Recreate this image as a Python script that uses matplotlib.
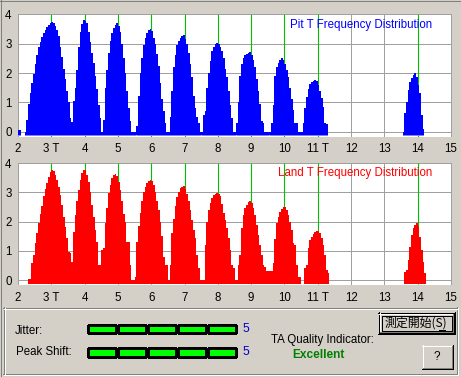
import numpy as np
import matplotlib
matplotlib.use("Agg")
import matplotlib.pyplot as plt

plt.rcParams['lines.scale_dashes'] = False
plt.rcParams['font.family'] = ['Liberation Sans', 'Noto Sans CJK JP', 'DejaVu Sans']

W, H = 461, 377
BG = '#D4D0C8'
BIN = 0.05  # histogram bin width in T

# ---------------- data ----------------
x_ticks = list(range(2, 16))
x_tick_labels = ['2', '3 T', '4', '5', '6', '7', '8', '9', '10', '11 T', '12', '13', '14', '15']
y_ticks = [0, 1, 2, 3, 4]
peak_marks = [3, 4, 5, 6, 7, 8, 9, 10, 11, 14]

pit_pre_start, pit_pre = 2.00, [0.04, 0.04]
pit_3t_start, pit_3t = 2.20, [0.0, 0.40, 0.95, 1.30, 1.65, 1.95, 2.30, 2.60, 2.88, 3.05, 3.22, 3.37, 3.48, 3.58,
                              3.65, 3.70, 3.73, 3.70, 3.60, 3.47, 3.25, 2.90, 2.55, 2.15, 1.80, 1.40, 1.00, 0.45, 0.33]
pit_4t_start, pit_4t = 3.65, [1.04, 1.50, 2.10, 2.90, 3.40, 3.68, 3.81, 3.79, 3.70, 3.40, 3.05, 2.70, 2.35, 1.90,
                              1.45, 0.90, 0.47, 0.0]
pit_5t_start, pit_5t = 4.55, [0.40, 1.50, 2.10, 2.70, 3.10, 3.38, 3.55, 3.65, 3.72, 3.62, 3.40, 3.00, 2.50, 2.00,
                              1.40, 0.80, 0.35, 0.0, 0.0, 0.0]
pit_6t_start, pit_6t = 5.55, [0.20, 1.20, 2.00, 2.50, 2.95, 3.20, 3.38, 3.47, 3.49, 3.42, 3.20, 2.98, 2.64, 2.25,
                              1.65, 1.10, 0.70, 0.30, 0.0, 0.0]
pit_7t_start, pit_7t = 6.55, [0.50, 1.40, 2.20, 2.60, 2.95, 3.10, 3.20, 3.27, 3.30, 3.15, 2.98, 2.70, 2.30, 1.85,
                              1.20, 0.80, 0.50, 0.30, 0.0]
pit_8t_start, pit_8t = 7.50, [0.0, 0.57, 0.69, 1.50, 2.00, 2.40, 2.75, 2.90, 2.98, 3.02, 3.00, 2.90, 2.75, 2.50,
                              2.15, 1.85, 1.40, 0.90, 0.46, 0.0, 0.0]
pit_9t_start, pit_9t = 8.55, [0.30, 1.00, 1.90, 2.30, 2.50, 2.60, 2.66, 2.70, 2.72, 2.62, 2.45, 2.20, 1.80, 1.40,
                              0.95, 0.35, 0.30, 0.0, 0.0, 0.0]
pit_10t_start, pit_10t = 9.55, [0.0, 0.30, 0.90, 1.90, 2.20, 2.35, 2.45, 2.50, 2.45, 2.30, 2.10, 1.85, 1.50, 1.10,
                                0.75, 0.30, 0.28, 0.0, 0.0]
pit_11t_start, pit_11t = 10.50, [0.0, 0.29, 0.80, 1.18, 1.45, 1.62, 1.70, 1.74, 1.76, 1.72, 1.60, 1.40, 1.15, 0.85,
                                 0.30, 0.25]
pit_14t_start, pit_14t = 13.55, [0.0, 0.62, 1.00, 1.42, 1.68, 1.82, 1.92, 1.99, 1.85, 1.60, 1.30, 0.55, 0.10]

land_3t_start, land_3t = 2.30, [0.03, 0.05, 0.60, 0.86, 1.26, 1.60, 1.94, 2.25, 2.55, 2.86, 3.12, 3.31, 3.54, 3.71,
                                3.77, 3.74, 3.60, 3.43, 3.20, 2.91, 2.57, 2.17, 1.83, 1.43, 0.97, 0.91, 0.63]
land_4t_start, land_4t = 3.65, [1.66, 2.23, 2.69, 3.09, 3.43, 3.66, 3.77, 3.77, 3.60, 3.35, 3.00, 2.57, 2.17, 1.71,
                                1.31, 0.51, 0.50]
land_5t_start, land_5t = 4.50, [1.03, 1.09, 1.94, 2.46, 2.97, 3.26, 3.49, 3.58, 3.63, 3.55, 3.37, 3.09, 2.69, 2.25,
                                2.00, 1.31, 1.31, 0.51, 0.0, 0.0]
land_6t_start, land_6t = 5.50, [0.10, 1.31, 1.85, 2.30, 2.70, 3.00, 3.20, 3.32, 3.38, 3.42, 3.38, 3.25, 3.00, 2.70,
                                2.40, 2.00, 1.50, 0.80, 0.50, 0.50, 0.0]
land_7t_start, land_7t = 6.55, [0.50, 1.60, 2.10, 2.55, 2.85, 3.03, 3.14, 3.20, 3.21, 3.10, 2.95, 2.70, 2.40, 2.06,
                                1.71, 1.43, 0.86, 0.40, 0.0, 0.0]
land_8t_start, land_8t = 7.55, [0.0, 1.20, 2.00, 2.40, 2.65, 2.82, 2.90, 2.95, 2.98, 2.95, 2.88, 2.60, 2.30, 2.06,
                                1.77, 1.43, 1.03, 0.51, 0.40, 0.0, 0.0]
land_9t_start, land_9t = 8.60, [0.51, 0.86, 1.77, 2.23, 2.46, 2.57, 2.66, 2.69, 2.64, 2.46, 2.23, 1.89, 1.54, 1.20,
                                0.86, 0.51, 0.46, 0.30, 0.30, 0.30, 0.30]
land_10t_start, land_10t = 9.65, [0.60, 1.40, 1.94, 2.17, 2.32, 2.43, 2.50, 2.51, 2.40, 2.23, 2.00, 1.71, 1.26, 1.20,
                                  0.51, 0.10, 0.10]
land_11t_start, land_11t = 10.60, [0.40, 0.51, 1.09, 1.37, 1.49, 1.57, 1.63, 1.67, 1.68, 1.60, 1.43, 1.20, 0.86,
                                   0.34, 0.25]
land_14t_start, land_14t = 13.60, [0.29, 0.34, 0.68, 1.14, 1.54, 1.77, 1.88, 1.96, 1.85, 1.48, 1.03, 0.63, 0.23]

jitter_level = 5
peak_shift_level = 5
quality = 'Excellent'

pit_segments = [(pit_pre_start, pit_pre), (pit_3t_start, pit_3t), (pit_4t_start, pit_4t), (pit_5t_start, pit_5t),
                (pit_6t_start, pit_6t), (pit_7t_start, pit_7t), (pit_8t_start, pit_8t), (pit_9t_start, pit_9t),
                (pit_10t_start, pit_10t), (pit_11t_start, pit_11t), (pit_14t_start, pit_14t)]
land_segments = [(land_3t_start, land_3t), (land_4t_start, land_4t), (land_5t_start, land_5t),
                 (land_6t_start, land_6t), (land_7t_start, land_7t), (land_8t_start, land_8t),
                 (land_9t_start, land_9t), (land_10t_start, land_10t), (land_11t_start, land_11t),
                 (land_14t_start, land_14t)]

# ---------------- figure ----------------
fig = plt.figure(figsize=(W / 100, H / 100), dpi=100)
fig.patch.set_facecolor(BG)
bg = fig.add_axes([0, 0, 1, 1])
bg.set_xlim(0, W)
bg.set_ylim(H, 0)
bg.axis('off')
bg.set_zorder(0)

YLO, YHI = -0.18, 4.017
XLO, XHI = 1.985, 15.015


def px_axes(l, t, r, b):
    ax = fig.add_axes([l / W, 1 - b / H, (r - l) / W, (b - t) / H])
    ax.set_zorder(1)
    return ax


def draw_plot(ax, segments, color, title):
    ax.set_facecolor('white')
    ax.set_xlim(XLO, XHI)
    ax.set_ylim(YLO, YHI)
    for s in ax.spines.values():
        s.set_visible(False)
    for x in x_ticks:
        ax.axvline(x, color='#A0A0A0', lw=0.72, zorder=1)
    for y in y_ticks:
        ax.axhline(y, color='#A0A0A0', lw=0.72, zorder=1)
    ax.vlines(peak_marks, YLO, YHI, colors='#00C000', lw=0.8, zorder=2)
    for start, vals in segments:
        v = np.asarray(vals, dtype=float)
        edges = start + BIN * np.arange(len(v) + 1)
        ax.fill_between(edges, -0.15, np.append(v, v[-1]), step='post', color=color,
                        lw=0, zorder=3, antialiased=False)
        ax.hlines(-0.133, edges[0], edges[-1], colors='white', lw=0.72,
                  linestyles=(0, (0.72, 0.72)), zorder=4)
    ax.set_xticks(x_ticks)
    ax.set_xticklabels(x_tick_labels)
    ax.set_yticks(y_ticks)
    ax.tick_params(length=0, labelsize=8.3, colors='black')
    ax.tick_params(axis='x', pad=4.5)
    ax.tick_params(axis='y', pad=4.2)
    ax.text(14.43, 3.65, title, color=color, fontsize=8.3, ha='right', va='center', zorder=5)


ax1 = px_axes(17.5, 14.0, 451.5, 136.8)
draw_plot(ax1, pit_segments, '#0000FF', 'Pit T Frequency Distribution')
ax2 = px_axes(17.5, 162.7, 451.5, 285.3)
draw_plot(ax2, land_segments, '#FF0000', 'Land T Frequency Distribution')


# ---------------- lower panel ----------------
def line(x0, y0, x1, y1, c, lw=0.72, **kw):
    bg.plot([x0, x1], [y0, y1], color=c, lw=lw, solid_capstyle='butt', antialiased=False, **kw)


def rect_outline(l, t, r, b, c):
    line(l, t + 0.5, r + 1, t + 0.5, c)
    line(l, b + 0.5, r + 1, b + 0.5, c)
    line(l + 0.5, t, l + 0.5, b + 1, c)
    line(r + 0.5, t, r + 0.5, b + 1, c)


# etched group box
rect_outline(3, 307, 456, 373, '#808080')
rect_outline(4, 308, 457, 374, 'white')

# level bars
def level_bar(y0, y1, n):
    for i in range(n):
        x0 = 88 + 30 * i
        bg.add_patch(plt.Rectangle((x0, y0), 27.5, y1 - y0, facecolor='#00FF00',
                                   edgecolor='black', lw=0.8, antialiased=False))


level_bar(324.8, 333.3, jitter_level)
level_bar(348.3, 356.7, peak_shift_level)

bg.text(15, 330.5, 'Jitter:', fontsize=8.3, ha='left', va='center')
bg.text(15.5, 352, 'Peak Shift:', fontsize=8.3, ha='left', va='center')
bg.text(246, 329.5, str(jitter_level), fontsize=8.8, color='#0000C8', ha='center', va='center')
bg.text(246, 352, str(peak_shift_level), fontsize=8.8, color='#0000C8', ha='center', va='center')
bg.text(271, 339.5, 'TA Quality Indicator:', fontsize=8.3, ha='left', va='center')
bg.text(318, 355.5, quality, fontsize=8.6, fontweight='bold', color='#008000', ha='center', va='center')

# default button
bx0, by0, bx1, by1 = 378, 312, 454, 333
bg.add_patch(plt.Rectangle((bx0, by0), bx1 - bx0 + 1, by1 - by0 + 1, facecolor=BG, edgecolor='none'))
rect_outline(bx0, by0, bx1, by1, 'black')
line(bx0 + 1, by0 + 1.5, bx1, by0 + 1.5, 'white')
line(bx0 + 1.5, by0 + 1, bx0 + 1.5, by1, 'white')
line(bx0 + 1, by1 - 0.5, bx1, by1 - 0.5, 'black')
line(bx1 - 0.5, by0 + 1, bx1 - 0.5, by1, 'black')
line(bx0 + 2, by1 - 1.5, bx1 - 1, by1 - 1.5, '#808080')
line(bx1 - 1.5, by0 + 2, bx1 - 1.5, by1 - 1, '#808080')
bg.add_patch(plt.Rectangle((381.5, 315.5), 70, 15, facecolor='none', edgecolor='black', lw=0.72,
                           linestyle=(0, (0.72, 0.72)), antialiased=False))
bg.text(416, 322.8, '測定開始(S)', fontsize=8.6, ha='center', va='center',
        family=['Noto Sans CJK JP', 'DejaVu Sans'])
line(438.5, 329.5, 444.5, 329.5, 'black')

# "?" button
qx0, qy0, qx1, qy1 = 422, 345, 452, 368
bg.add_patch(plt.Rectangle((qx0, qy0), qx1 - qx0 + 1, qy1 - qy0 + 1, facecolor=BG, edgecolor='none'))
line(qx0, qy0 + 0.5, qx1, qy0 + 0.5, 'white')
line(qx0 + 0.5, qy0, qx0 + 0.5, qy1, 'white')
line(qx0, qy1 + 0.5, qx1 + 1, qy1 + 0.5, 'black')
line(qx1 + 0.5, qy0, qx1 + 0.5, qy1 + 1, 'black')
line(qx0 + 1, qy1 - 0.5, qx1, qy1 - 0.5, '#808080')
line(qx1 - 0.5, qy0 + 1, qx1 - 0.5, qy1, '#808080')
bg.text(437, 356.5, '?', fontsize=8.6, ha='center', va='center')

# window edge
line(0.5, 0, 0.5, H, '#808080')
line(0, 0.5, W, 0.5, '#808080')
line(W - 0.5, 0, W - 0.5, H, 'white')
line(0, H - 0.5, W, H - 0.5, 'white')

fig.savefig('out.png', dpi=100, facecolor=BG)
